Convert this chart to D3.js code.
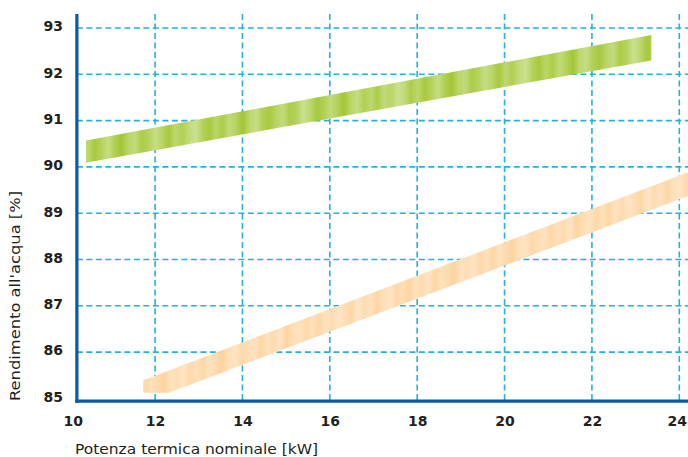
<!DOCTYPE html>
<html>
<head>
<meta charset="utf-8">
<script src="https://cdn.jsdelivr.net/npm/d3@7"></script>
<style>
  body { margin: 0; background: #fff; }
  svg { display: block; }
</style>
</head>
<body>
<div id="chart"></div>
<script>

// Data
var kwTicks = [10, 12, 14, 16, 18, 20, 22, 24];
var effTicks = [85, 86, 87, 88, 89, 90, 91, 92, 93];

// green band (upper series)
var greenKw = [10.42, 23.36];
var greenTop = [90.57, 92.85];
var greenBottom = [90.09, 92.30];

// orange band (lower series)
var orangeTopKw = [11.73, 24.3];
var orangeTop = [85.39, 89.92];
var orangeBottomKw = [11.73, 12.32, 24.3];
var orangeBottom = [85.12, 85.12, 89.41];

// stripe shading of the bands (0 = light, 1 = dark)
var greenStripes = [0.1, 0.3, 0.8, 0.4, 0.9, 0.6, 0.2, 0.7, 1.0, 0.5, 0.3, 0.8, 0.6, 0.2, 0.5, 0.9,
  0.4, 0.7, 0.3, 0.1, 0.6, 0.9, 0.5, 0.8, 0.3, 0.6, 1.0, 0.4, 0.2, 0.7, 0.9, 0.5, 0.3, 0.8, 0.6,
  0.1, 0.4, 0.9, 0.7, 0.3, 0.6, 1.0, 0.5, 0.2, 0.7, 0.4, 0.8, 0.3, 0.5, 0.1];
var orangeStripes = [0.1, 0.6, 0.3, 0.8, 0.4, 0.2, 0.7, 0.5, 0.9, 0.3, 0.6, 0.2, 0.8, 0.4, 0.6,
  0.9, 0.3, 0.5, 0.2, 0.7, 0.4, 0.8, 0.3, 0.6, 0.9, 0.4, 0.2, 0.7, 0.5, 0.3, 0.8, 0.4, 0.6, 0.2,
  0.9, 0.5, 0.3, 0.7, 0.4, 0.8, 0.3, 0.6, 0.2, 0.5, 0.8, 0.1];

// Setup
var width = 688, height = 457;
var axisColor = '#0a58a8';
var gridColor = '#27aee6';

var x = d3.scaleLinear().domain([10, 24]).range([67.7, 679.3]);
var y = d3.scaleLinear().domain([85, 93]).range([398.4, 28]);

var axisX = 10.21;   // where the vertical axis sits
var axisY = 84.94;   // where the horizontal axis sits
var gridTop = 93.3;

var svg = d3.select('#chart')
  .append('svg')
  .attr('width', width)
  .attr('height', height);

var defs = svg.append('defs');

// vertical stripes, pattern repeats along x
function stripeGradient(id, stripes, light, dark, span) {
  var col = d3.interpolateRgb(light, dark);
  var g = defs.append('linearGradient')
    .attr('id', id)
    .attr('gradientUnits', 'userSpaceOnUse')
    .attr('spreadMethod', 'repeat')
    .attr('x1', x(10)).attr('x2', x(10) + span)
    .attr('y1', 0).attr('y2', 0);
  g.selectAll('stop')
    .data(stripes)
    .enter()
    .append('stop')
    .attr('offset', function(d, i) { return (i / (stripes.length - 1) * 100) + '%'; })
    .attr('stop-color', function(d) { return col(d); });
}
stripeGradient('greenGrad', greenStripes, '#cfe398', '#a4c635', 330);
stripeGradient('orangeGrad', orangeStripes, '#fee9cf', '#fdd29a', 290);

// Grid
var grid = svg.append('g').attr('class', 'grid')
  .attr('stroke', gridColor)
  .attr('stroke-width', 1.6)
  .attr('stroke-dasharray', '6,3.5');

grid.selectAll('.hgrid')
  .data(effTicks.filter(function(d) { return d > 85; }))
  .enter()
  .append('line')
  .attr('x1', x(axisX)).attr('x2', width)
  .attr('y1', function(d) { return y(d); })
  .attr('y2', function(d) { return y(d); });

grid.selectAll('.vgrid')
  .data(kwTicks.filter(function(d) { return d > 10; }))
  .enter()
  .append('line')
  .attr('x1', function(d) { return x(d); })
  .attr('x2', function(d) { return x(d); })
  .attr('y1', y(gridTop)).attr('y2', y(axisY));

// Bands
function bandPath(topKw, top, botKw, bot) {
  var pts = topKw.map(function(k, i) { return [x(k), y(top[i])]; });
  var lower = botKw.map(function(k, i) { return [x(k), y(bot[i])]; }).reverse();
  return d3.line()(pts.concat(lower)) + 'Z';
}

svg.append('path')
  .attr('d', bandPath(greenKw, greenTop, greenKw, greenBottom))
  .attr('fill', 'url(#greenGrad)');

svg.append('path')
  .attr('d', bandPath(orangeTopKw, orangeTop, orangeBottomKw, orangeBottom))
  .attr('fill', 'url(#orangeGrad)');

// Axes lines
svg.append('line')
  .attr('x1', x(axisX)).attr('x2', x(axisX))
  .attr('y1', y(gridTop)).attr('y2', y(axisY) + 1.5)
  .attr('stroke', axisColor).attr('stroke-width', 3.2);

svg.append('line')
  .attr('x1', x(axisX) - 1.6).attr('x2', width)
  .attr('y1', y(axisY)).attr('y2', y(axisY))
  .attr('stroke', axisColor).attr('stroke-width', 3.2);

// Tick labels
var xAxis = svg.append('g')
  .attr('transform', 'translate(0,' + y(axisY) + ')')
  .call(d3.axisBottom(x).tickValues(kwTicks).tickSize(0).tickPadding(15));
xAxis.select('.domain').remove();
xAxis.selectAll('text')
  .attr('font-family', 'DejaVu Sans')
  .attr('font-weight', 'bold')
  .attr('font-size', 14)
  .attr('fill', '#231f20')
  .attr('dx', function(d) { return d === 10 ? 5 : (d === 24 ? -2.5 : 0); });

var yAxis = svg.append('g')
  .attr('transform', 'translate(' + x(axisX) + ',0)')
  .call(d3.axisLeft(y).tickValues(effTicks).tickSize(0).tickPadding(14));
yAxis.select('.domain').remove();
yAxis.selectAll('text')
  .attr('font-family', 'DejaVu Sans')
  .attr('font-weight', 'bold')
  .attr('font-size', 14)
  .attr('fill', '#231f20')
  .attr('dy', '0.2em');

// Titles
svg.append('text')
  .attr('x', 75).attr('y', 454)
  .attr('font-family', 'DejaVu Sans')
  .attr('font-size', 14)
  .attr('fill', '#231f20')
  .attr('textLength', 243)
  .attr('lengthAdjust', 'spacingAndGlyphs')
  .text('Potenza termica nominale [kW]');

svg.append('text')
  .attr('transform', 'translate(20,401) rotate(-90)')
  .attr('font-family', 'DejaVu Sans')
  .attr('font-size', 14)
  .attr('fill', '#231f20')
  .attr('textLength', 210)
  .attr('lengthAdjust', 'spacingAndGlyphs')
  .text("Rendimento all'acqua [%]");

</script>
</body>
</html>
